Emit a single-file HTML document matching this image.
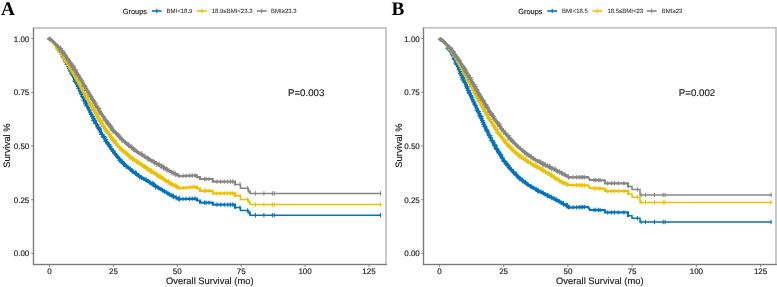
<!DOCTYPE html>
<html><head><meta charset="utf-8"><style>
html,body{margin:0;padding:0;background:#fff;width:777px;height:287px;overflow:hidden}
svg{display:block;font-family:"Liberation Sans",sans-serif;filter:blur(0.5px);text-rendering:geometricPrecision}
</style></head><body>
<svg width="777" height="287" viewBox="0 0 777 287"><style>.t{fill:#1a1a1a;stroke:#1a1a1a;stroke-width:0.15px}.t2{fill:#2a2a2a;stroke:#2a2a2a;stroke-width:0.05px}</style><rect width="777" height="287" fill="#fff"/><rect x="33.5" y="28.0" width="352.5" height="236.5" fill="none" stroke="#c4c4c4" stroke-width="1.8"/><line x1="33.5" y1="28.0" x2="33.5" y2="265.0" stroke="#7a7a7a" stroke-width="1"/><line x1="33.0" y1="264.5" x2="386.9" y2="264.5" stroke="#7a7a7a" stroke-width="1"/><line x1="31.2" y1="253.4" x2="33.5" y2="253.4" stroke="#7a7a7a" stroke-width="0.9"/><text x="29.3" y="256.3" font-size="8.0" text-anchor="end" class="t">0.00</text><line x1="31.2" y1="199.7" x2="33.5" y2="199.7" stroke="#7a7a7a" stroke-width="0.9"/><text x="29.3" y="202.6" font-size="8.0" text-anchor="end" class="t">0.25</text><line x1="31.2" y1="146.0" x2="33.5" y2="146.0" stroke="#7a7a7a" stroke-width="0.9"/><text x="29.3" y="148.9" font-size="8.0" text-anchor="end" class="t">0.50</text><line x1="31.2" y1="92.3" x2="33.5" y2="92.3" stroke="#7a7a7a" stroke-width="0.9"/><text x="29.3" y="95.2" font-size="8.0" text-anchor="end" class="t">0.75</text><line x1="31.2" y1="38.6" x2="33.5" y2="38.6" stroke="#7a7a7a" stroke-width="0.9"/><text x="29.3" y="41.5" font-size="8.0" text-anchor="end" class="t">1.00</text><line x1="49.5" y1="264.5" x2="49.5" y2="266.9" stroke="#7a7a7a" stroke-width="0.9"/><text x="49.5" y="274.0" font-size="8.0" text-anchor="middle" class="t">0</text><line x1="113.4" y1="264.5" x2="113.4" y2="266.9" stroke="#7a7a7a" stroke-width="0.9"/><text x="113.4" y="274.0" font-size="8.0" text-anchor="middle" class="t">25</text><line x1="177.3" y1="264.5" x2="177.3" y2="266.9" stroke="#7a7a7a" stroke-width="0.9"/><text x="177.3" y="274.0" font-size="8.0" text-anchor="middle" class="t">50</text><line x1="241.2" y1="264.5" x2="241.2" y2="266.9" stroke="#7a7a7a" stroke-width="0.9"/><text x="241.2" y="274.0" font-size="8.0" text-anchor="middle" class="t">75</text><line x1="305.1" y1="264.5" x2="305.1" y2="266.9" stroke="#7a7a7a" stroke-width="0.9"/><text x="305.1" y="274.0" font-size="8.0" text-anchor="middle" class="t">100</text><line x1="369.0" y1="264.5" x2="369.0" y2="266.9" stroke="#7a7a7a" stroke-width="0.9"/><text x="369.0" y="274.0" font-size="8.0" text-anchor="middle" class="t">125</text><text x="209.8" y="284.3" font-size="9.4" text-anchor="middle" class="t">Overall Survival (mo)</text><text transform="translate(9.8,145.5) rotate(-90)" x="0" y="0" font-size="9.4" text-anchor="middle" class="t">Survival %</text><text x="1.0" y="14.6" font-family="Liberation Serif" font-weight="bold" font-size="19.3" fill="#000">A</text><text x="288.0" y="95.9" font-size="9.7" class="t">P=0.003</text><text x="122.8" y="13.8" font-size="7.4" class="t">Groups</text><line x1="151.9" y1="11" x2="161.7" y2="11" stroke="#0073C2" stroke-width="1.6"/><line x1="156.8" y1="8.8" x2="156.8" y2="13.2" stroke="#0073C2" stroke-width="1.1"/><text x="166.6" y="13.3" font-size="6.0" class="t2">BMI<18.9</text><line x1="196.9" y1="11" x2="206.7" y2="11" stroke="#EFC000" stroke-width="1.6"/><line x1="201.8" y1="8.8" x2="201.8" y2="13.2" stroke="#EFC000" stroke-width="1.1"/><text x="211.7" y="13.3" font-size="6.0" class="t2">18.9≤BMI<23.3</text><line x1="256.8" y1="11" x2="266.6" y2="11" stroke="#868686" stroke-width="1.6"/><line x1="261.7" y1="8.8" x2="261.7" y2="13.2" stroke="#868686" stroke-width="1.1"/><text x="271.0" y="13.3" font-size="6.0" class="t2">BMI≥23.3</text><polyline points="49.6,38.9 50.6,39.6 51.6,40.5 52.6,41.4 53.6,42.4 54.6,43.6 55.6,44.8 56.6,46.1 57.6,47.4 58.6,48.9 59.6,50.4 60.6,52.0 61.6,53.6 62.6,55.3 63.6,57.1 64.6,58.9 65.6,60.8 66.6,62.7 67.6,64.6 68.6,66.6 69.6,68.6 70.6,70.7 71.6,72.8 72.6,74.9 73.6,77.0 74.6,79.1 75.6,81.3 76.6,83.4 77.6,85.6 78.6,87.7 79.6,89.9 80.6,92.0 81.6,94.2 82.6,96.3 83.6,98.4 84.6,100.5 85.6,102.6 86.6,104.7 87.6,106.7 88.6,108.8 89.6,110.8 90.6,112.8 91.6,114.8 92.6,116.8 93.6,118.8 94.6,120.7 95.6,122.6 96.6,124.5 97.6,126.3 98.6,128.2 99.6,130.0 100.6,131.8 101.6,133.5 102.6,135.2 103.6,136.9 104.6,138.6 105.6,140.2 106.6,141.8 107.6,143.4 108.6,144.9 109.6,146.4 110.6,147.8 111.6,149.3 112.6,150.6 113.6,152.0 114.6,153.3 115.6,154.5 116.6,155.8 117.6,156.9 118.6,158.1 119.6,159.2 120.6,160.3 121.6,161.4 122.6,162.4 123.6,163.4 124.6,164.4 125.6,165.3 126.6,166.2 127.6,167.1 128.6,168.0 129.6,168.8 130.6,169.6 131.6,170.4 132.6,171.2 133.6,172.0 134.6,172.7 135.6,173.5 136.6,174.2 137.6,174.9 138.6,175.5 139.6,176.2 140.6,176.9 141.6,177.5 142.6,178.2 143.6,178.8 144.6,179.4 145.6,180.0 146.6,180.6 147.6,181.2 148.6,181.8 149.6,182.4 150.6,183.0 151.6,183.6 152.6,184.2 153.6,184.8 154.6,185.4 155.6,186.0 156.6,186.6 157.6,187.3 158.6,187.9 159.6,188.5 160.6,189.1 161.6,189.7 162.6,190.3 163.6,190.9 164.6,191.5" fill="none" stroke="#0073C2" stroke-width="3.0" stroke-linejoin="round" stroke-linecap="round"/><polyline points="164.6,191.5 165.6,192.1 166.6,192.7 167.6,193.3 168.6,193.8 169.6,194.4 170.6,194.9 171.6,195.4 172.6,196.0 173.6,196.5 174.6,196.9 175.6,197.4 176.6,197.8 177.6,198.3 178.6,198.7 179.6,199.1" fill="none" stroke="#0073C2" stroke-width="2.6" stroke-linejoin="round" stroke-linecap="round"/><polyline points="179.6,199.1 196.0,198.6 197.0,198.6 197.0,200.5 200.0,200.5 200.0,202.7 212.7,202.7 212.7,204.7 235.0,204.7 235.0,207.6" fill="none" stroke="#0073C2" stroke-width="2.2" stroke-linejoin="miter" stroke-linecap="square"/><polyline points="235.0,207.6 240.5,207.6 240.5,210.5 248.4,210.5 248.4,212.9 250.0,212.9 250.0,215.2 380.5,215.2" fill="none" stroke="#0073C2" stroke-width="1.5" stroke-linejoin="miter" stroke-linecap="square"/><path d="M55.1 48.0H60.7M57.9 45.2V50.8M56.3 49.3H60.5M58.4 47.2V51.4M57.9 51.0H62.7M60.3 48.6V53.4M58.1 52.4H63.2M60.6 49.8V54.9M59.8 54.5H65.1M62.4 51.8V57.2M60.4 56.3H65.7M63.1 53.6V58.9M61.0 57.7H66.0M63.5 55.2V60.3M62.8 60.1H67.9M65.4 57.5V62.6M62.8 61.2H68.2M65.5 58.5V63.9M63.7 62.3H69.4M66.6 59.5V65.2M64.6 64.5H69.7M67.1 61.9V67.1M66.5 66.6H70.8M68.6 64.5V68.8M67.0 68.6H71.8M69.4 66.2V71.0M67.5 70.1H72.3M69.9 67.7V72.5M68.3 71.4H74.3M71.3 68.4V74.3M69.3 73.6H74.7M72.0 70.8V76.3M70.0 74.5H74.9M72.5 72.0V76.9M70.9 75.7H76.3M73.6 73.0V78.4M72.0 77.6H76.4M74.2 75.4V79.8M72.7 80.2H78.0M75.4 77.6V82.8M72.6 81.5H77.8M75.2 78.9V84.1M73.9 82.6H79.1M76.5 80.0V85.2M74.7 83.8H78.9M76.8 81.7V85.9M75.6 86.5H80.4M78.0 84.1V88.9M76.4 88.5H80.7M78.5 86.3V90.6M77.6 90.0H82.5M80.1 87.5V92.5M78.2 91.6H83.5M80.8 88.9V94.2M78.5 93.8H84.1M81.3 91.0V96.6M80.1 96.6H84.3M82.2 94.5V98.7M81.4 98.0H86.4M83.9 95.5V100.5M81.4 100.8H87.0M84.2 97.9V103.6M83.5 102.2H88.0M85.8 99.9V104.5M83.0 103.9H88.9M86.0 101.0V106.9M84.1 105.7H90.0M87.1 102.8V108.7M86.0 107.7H91.1M88.5 105.1V110.3M87.0 110.1H91.9M89.5 107.6V112.6M88.1 112.8H92.4M90.3 110.6V115.0M88.9 114.5H93.6M91.2 112.2V116.8M89.9 116.5H95.2M92.5 113.8V119.2M91.1 118.6H95.7M93.4 116.4V120.9M91.0 120.3H96.8M93.9 117.4V123.2M92.3 121.1H97.6M94.9 118.5V123.7M93.2 123.6H98.2M95.7 121.0V126.1M94.9 124.7H99.2M97.0 122.6V126.9M95.3 127.0H100.8M98.1 124.2V129.8M96.0 128.2H101.8M98.9 125.3V131.1M97.7 129.2H102.0M99.9 127.1V131.4M97.5 130.5H102.1M99.8 128.2V132.8M98.4 132.7H102.9M100.6 130.4V134.9M98.8 134.4H104.7M101.7 131.4V137.3M100.9 136.5H106.2M103.6 133.9V139.2M101.3 137.2H106.9M104.1 134.4V140.0M103.4 139.5H108.2M105.8 137.1V141.9M103.2 141.6H108.8M106.0 138.7V144.4M105.4 143.2H109.9M107.6 140.9V145.4M106.4 144.6H111.6M109.0 142.0V147.2M107.3 146.3H112.6M110.0 143.6V149.0M109.0 148.9H113.8M111.4 146.5V151.3M110.6 150.9H115.1M112.8 148.6V153.1M110.8 151.2H116.0M113.4 148.6V153.8M112.2 153.4H117.3M114.8 150.9V155.9M113.7 155.2H118.1M115.9 153.0V157.5M115.6 157.0H120.5M118.1 154.5V159.4M116.4 158.4H121.2M118.8 156.0V160.8M117.4 160.3H122.6M120.0 157.7V163.0M118.9 161.6H123.3M121.1 159.4V163.8M119.2 161.9H125.1M122.2 159.0V164.8M120.8 163.8H126.1M123.5 161.1V166.5M122.3 164.9H127.1M124.7 162.5V167.3M123.3 166.3H128.9M126.1 163.5V169.1M126.4 167.6H130.7M128.5 165.5V169.8M127.8 168.8H132.5M130.2 166.4V171.1M129.6 170.8H134.0M131.8 168.6V173.0M130.2 171.4H135.7M133.0 168.7V174.2M132.6 173.3H138.2M135.4 170.5V176.1M133.8 173.7H139.3M136.6 170.9V176.5M136.2 175.4H141.1M138.6 172.9V177.8M136.9 176.8H142.1M139.5 174.2V179.4M139.1 177.7H144.0M141.5 175.2V180.1M141.8 178.7H146.3M144.0 176.5V180.9M143.4 179.7H148.9M146.2 177.0V182.5M146.1 181.0H150.4M148.3 178.8V183.2M147.2 182.5H152.5M149.8 179.9V185.1M149.2 183.5H155.0M152.1 180.6V186.4M150.9 184.1H156.0M153.5 181.6V186.7M151.3 185.0H156.8M154.1 182.3V187.8M152.6 186.7H158.4M155.5 183.8V189.6M155.6 187.5H160.2M157.9 185.2V189.8M156.7 188.3H161.1M158.9 186.1V190.6M158.7 189.1H163.3M161.0 186.8V191.4M160.0 190.3H164.7M162.4 188.0V192.7M162.0 191.4H166.9M164.5 188.9V193.8M164.6 192.3H169.0M166.8 190.0V194.5M165.8 193.7H170.4M168.1 191.4V196.0M167.2 194.6H172.3M169.8 192.1V197.2M169.3 195.7H174.6M171.9 193.0V198.3M170.4 196.4H176.2M173.3 193.5V199.3M173.4 197.7H178.8M176.1 195.0V200.5M175.9 198.7H180.7M178.3 196.3V201.1M176.8 198.7H182.7M179.7 195.8V201.6M183.0 196.8V201.2M186.0 196.7V201.1M189.4 196.6V201.0M192.2 196.5V200.9M195.0 196.4V200.8M204.6 200.5V204.9M206.1 200.5V204.9M209.0 200.5V204.9M217.0 202.5V206.9M220.7 202.5V206.9M224.3 202.5V206.9M227.8 202.5V206.9M230.5 202.5V206.9M232.7 202.5V206.9M240.0 205.4V209.8M247.6 208.3V212.7M250.0 210.7V215.1M255.5 213.0V217.4M263.9 213.0V217.4M272.4 213.0V217.4M274.3 213.0V217.4M380.5 213.0V217.4" stroke="#0073C2" stroke-width="1.0" fill="none"/><polyline points="49.6,38.9 50.6,39.9 51.6,40.9 52.6,42.0 53.6,43.2 54.6,44.4 55.6,45.6 56.6,46.9 57.6,48.2 58.6,49.6 59.6,50.9 60.6,52.4 61.6,53.8 62.6,55.3 63.6,56.8 64.6,58.4 65.6,60.0 66.6,61.6 67.6,63.2 68.6,64.8 69.6,66.5 70.6,68.2 71.6,69.9 72.6,71.7 73.6,73.4 74.6,75.2 75.6,77.0 76.6,78.7 77.6,80.5 78.6,82.4 79.6,84.2 80.6,86.0 81.6,87.8 82.6,89.7 83.6,91.5 84.6,93.3 85.6,95.2 86.6,97.0 87.6,98.8 88.6,100.7 89.6,102.5 90.6,104.3 91.6,106.1 92.6,107.9 93.6,109.7 94.6,111.4 95.6,113.2 96.6,114.9 97.6,116.6 98.6,118.3 99.6,120.0 100.6,121.7 101.6,123.3 102.6,124.9 103.6,126.5 104.6,128.1 105.6,129.6 106.6,131.1 107.6,132.6 108.6,134.0 109.6,135.4 110.6,136.7 111.6,138.1 112.6,139.3 113.6,140.6 114.6,141.8 115.6,143.0 116.6,144.1 117.6,145.2 118.6,146.3 119.6,147.3 120.6,148.3 121.6,149.3 122.6,150.3 123.6,151.2 124.6,152.1 125.6,153.0 126.6,153.8 127.6,154.6 128.6,155.5 129.6,156.3 130.6,157.0 131.6,157.8 132.6,158.5 133.6,159.3 134.6,160.0 135.6,160.7 136.6,161.4 137.6,162.1 138.6,162.7 139.6,163.4 140.6,164.1 141.6,164.7 142.6,165.4 143.6,166.1 144.6,166.7 145.6,167.4 146.6,168.0 147.6,168.7 148.6,169.4 149.6,170.0 150.6,170.7 151.6,171.4 152.6,172.0 153.6,172.7 154.6,173.3 155.6,174.0 156.6,174.6 157.6,175.3 158.6,175.9 159.6,176.6 160.6,177.2 161.6,177.9 162.6,178.5 163.6,179.1 164.6,179.8" fill="none" stroke="#EFC000" stroke-width="3.0" stroke-linejoin="round" stroke-linecap="round"/><polyline points="164.6,179.8 165.6,180.4 166.6,181.0 167.6,181.6 168.6,182.2 169.6,182.8 170.6,183.4 171.6,183.9 172.6,184.5 173.6,185.1 174.6,185.6 175.6,186.2 176.6,186.7 177.6,187.2 178.6,187.7 179.6,188.2" fill="none" stroke="#EFC000" stroke-width="2.6" stroke-linejoin="round" stroke-linecap="round"/><polyline points="179.6,188.2 196.0,186.8 197.0,186.8 197.0,188.5 200.0,188.5 200.0,190.8 212.7,190.8 212.7,193.3 235.0,193.3 235.0,195.8" fill="none" stroke="#EFC000" stroke-width="2.2" stroke-linejoin="miter" stroke-linecap="square"/><polyline points="235.0,195.8 240.5,195.8 240.5,199.4 248.4,199.4 248.4,202.5 250.0,202.5 250.0,204.6 380.5,204.6" fill="none" stroke="#EFC000" stroke-width="1.5" stroke-linejoin="miter" stroke-linecap="square"/><path d="M55.0 48.4H59.5M57.2 46.2V50.6M55.6 50.1H60.8M58.2 47.4V52.7M57.1 51.9H62.6M59.9 49.2V54.7M59.3 53.4H64.3M61.8 50.9V55.9M60.3 55.2H65.7M63.0 52.5V57.9M61.4 56.9H65.7M63.5 54.8V59.1M61.8 59.1H66.8M64.3 56.6V61.6M63.2 60.2H68.7M66.0 57.5V63.0M63.6 61.4H69.5M66.5 58.5V64.3M64.5 62.5H69.7M67.1 59.9V65.1M65.6 63.3H70.2M67.9 61.0V65.5M66.1 65.7H71.6M68.8 62.9V68.5M67.9 68.1H72.9M70.4 65.6V70.6M69.1 69.8H74.4M71.8 67.2V72.5M69.7 71.2H75.2M72.4 68.4V73.9M70.7 73.1H75.8M73.2 70.5V75.6M71.6 74.2H77.3M74.5 71.4V77.1M73.2 76.7H77.4M75.3 74.6V78.8M74.0 78.2H79.2M76.6 75.6V80.8M75.0 80.1H80.0M77.5 77.7V82.6M75.4 81.2H80.3M77.8 78.7V83.6M76.8 83.8H81.7M79.3 81.3V86.2M78.4 86.1H83.3M80.9 83.6V88.5M78.9 87.1H84.3M81.6 84.4V89.8M79.7 88.1H84.8M82.2 85.5V90.6M79.6 89.9H85.3M82.5 87.1V92.8M81.3 91.3H86.2M83.8 88.8V93.7M81.5 93.0H86.9M84.2 90.2V95.7M82.4 95.5H88.0M85.2 92.7V98.3M83.8 97.1H88.5M86.1 94.8V99.5M85.2 99.0H89.9M87.5 96.7V101.4M86.3 100.8H90.9M88.6 98.5V103.0M87.4 102.8H92.0M89.7 100.5V105.2M87.7 104.4H93.2M90.5 101.7V107.2M88.1 105.3H93.7M90.9 102.5V108.1M90.0 107.4H95.3M92.7 104.7V110.0M91.3 109.2H96.0M93.7 106.9V111.5M91.8 110.6H96.8M94.3 108.1V113.1M92.8 112.6H97.3M95.1 110.3V114.8M94.5 113.9H99.0M96.7 111.6V116.2M94.5 115.2H99.5M97.0 112.6V117.7M95.3 117.2H99.8M97.5 114.9V119.5M95.9 118.7H101.6M98.8 115.9V121.5M97.3 120.4H102.7M100.0 117.7V123.1M97.6 121.2H103.2M100.4 118.4V124.0M99.3 122.8H103.7M101.5 120.6V125.0M98.6 124.2H104.4M101.5 121.3V127.2M100.8 126.4H106.3M103.6 123.7V129.1M102.6 128.1H107.4M105.0 125.7V130.5M102.5 129.9H107.9M105.2 127.2V132.7M104.7 131.5H109.5M107.1 129.1V133.9M104.7 132.1H109.5M107.1 129.7V134.4M106.1 133.7H111.9M109.0 130.8V136.6M108.2 135.7H112.4M110.3 133.6V137.8M108.3 137.4H113.9M111.1 134.6V140.2M109.6 139.4H115.5M112.5 136.4V142.3M111.2 140.5H116.9M114.0 137.7V143.3M112.1 141.5H117.3M114.7 138.9V144.1M113.2 143.6H118.7M116.0 140.8V146.4M115.1 145.6H120.2M117.6 143.1V148.1M116.7 147.6H122.1M119.4 144.9V150.3M118.5 149.2H123.9M121.2 146.5V152.0M119.4 150.7H124.9M122.1 148.0V153.5M121.4 151.1H126.5M124.0 148.6V153.6M123.2 152.8H128.0M125.6 150.4V155.2M124.1 153.6H128.7M126.4 151.4V155.9M124.9 154.4H130.4M127.6 151.7V157.2M127.0 156.5H132.1M129.5 153.9V159.0M127.9 157.6H133.0M130.4 155.0V160.1M129.5 158.8H135.2M132.4 155.9V161.7M132.0 160.2H136.8M134.4 157.8V162.6M133.6 161.3H139.3M136.5 158.5V164.2M136.1 163.1H140.8M138.4 160.8V165.5M137.3 163.0H141.6M139.4 160.9V165.2M139.1 164.6H144.4M141.8 161.9V167.3M140.2 165.7H145.4M142.8 163.1V168.4M142.2 166.6H147.5M144.9 163.9V169.2M143.3 168.1H149.0M146.1 165.2V170.9M145.2 169.0H150.2M147.7 166.5V171.4M146.2 169.7H151.6M148.9 167.0V172.4M147.4 171.1H153.3M150.4 168.2V174.0M148.8 171.2H154.5M151.6 168.4V174.1M151.4 172.8H155.9M153.6 170.6V175.1M153.9 173.7H158.4M156.2 171.4V175.9M154.9 175.4H159.9M157.4 172.9V177.9M155.7 176.4H161.2M158.4 173.6V179.2M157.3 176.5H162.9M160.1 173.7V179.3M158.6 177.0H163.7M161.2 174.5V179.5M160.5 178.2H164.9M162.7 176.0V180.4M161.4 179.2H165.9M163.6 176.9V181.4M163.3 180.5H168.0M165.6 178.2V182.9M164.3 181.4H169.0M166.6 179.0V183.7M165.8 182.0H171.6M168.7 179.1V184.9M168.2 183.7H172.8M170.5 181.3V186.0M168.9 184.2H174.8M171.9 181.3V187.2M171.2 184.8H175.6M173.4 182.6V187.0M172.9 185.8H178.7M175.8 182.9V188.7M173.5 186.6H179.3M176.4 183.7V189.6M176.2 187.5H180.5M178.3 185.3V189.7M183.0 185.7V190.1M186.0 185.5V189.9M189.4 185.2V189.6M192.2 184.9V189.3M195.0 184.7V189.1M204.6 188.6V193.0M206.1 188.6V193.0M209.0 188.6V193.0M217.0 191.1V195.5M220.7 191.1V195.5M224.3 191.1V195.5M227.8 191.1V195.5M230.5 191.1V195.5M232.7 191.1V195.5M240.0 193.6V198.0M247.6 197.2V201.6M250.0 200.3V204.7M255.5 202.4V206.8M263.9 202.4V206.8M272.4 202.4V206.8M274.3 202.4V206.8M380.5 202.4V206.8" stroke="#EFC000" stroke-width="1.0" fill="none"/><polyline points="49.6,38.9 50.6,39.6 51.6,40.4 52.6,41.2 53.6,42.1 54.6,43.0 55.6,44.0 56.6,45.0 57.6,46.1 58.6,47.2 59.6,48.3 60.6,49.5 61.6,50.7 62.6,52.0 63.6,53.3 64.6,54.6 65.6,55.9 66.6,57.3 67.6,58.8 68.6,60.2 69.6,61.7 70.6,63.2 71.6,64.7 72.6,66.2 73.6,67.8 74.6,69.4 75.6,71.0 76.6,72.6 77.6,74.3 78.6,75.9 79.6,77.6 80.6,79.2 81.6,80.9 82.6,82.6 83.6,84.3 84.6,86.0 85.6,87.7 86.6,89.4 87.6,91.1 88.6,92.8 89.6,94.5 90.6,96.2 91.6,97.9 92.6,99.6 93.6,101.2 94.6,102.9 95.6,104.5 96.6,106.2 97.6,107.8 98.6,109.4 99.6,111.0 100.6,112.6 101.6,114.1 102.6,115.6 103.6,117.2 104.6,118.6 105.6,120.1 106.6,121.5 107.6,122.9 108.6,124.3 109.6,125.6 110.6,126.9 111.6,128.2 112.6,129.4 113.6,130.6 114.6,131.8 115.6,132.9 116.6,134.0 117.6,135.1 118.6,136.2 119.6,137.2 120.6,138.2 121.6,139.2 122.6,140.1 123.6,141.0 124.6,141.9 125.6,142.8 126.6,143.7 127.6,144.5 128.6,145.3 129.6,146.1 130.6,146.9 131.6,147.7 132.6,148.4 133.6,149.2 134.6,149.9 135.6,150.6 136.6,151.3 137.6,152.0 138.6,152.6 139.6,153.3 140.6,153.9 141.6,154.6 142.6,155.2 143.6,155.8 144.6,156.4 145.6,157.0 146.6,157.6 147.6,158.2 148.6,158.8 149.6,159.4 150.6,160.0 151.6,160.6 152.6,161.2 153.6,161.8 154.6,162.4 155.6,163.0 156.6,163.5 157.6,164.1 158.6,164.7 159.6,165.3 160.6,165.8 161.6,166.4 162.6,167.0 163.6,167.5 164.6,168.1" fill="none" stroke="#868686" stroke-width="3.0" stroke-linejoin="round" stroke-linecap="round"/><polyline points="164.6,168.1 165.6,168.6 166.6,169.2 167.6,169.7 168.6,170.3 169.6,170.8 170.6,171.4 171.6,171.9 172.6,172.4 173.6,173.0 174.6,173.5 175.6,174.0 176.6,174.5 177.6,175.0 178.6,175.5 179.6,176.0" fill="none" stroke="#868686" stroke-width="2.6" stroke-linejoin="round" stroke-linecap="round"/><polyline points="179.6,176.0 196.0,175.4 197.0,175.4 197.0,177.1 200.0,177.1 200.0,179.0 212.7,179.0 212.7,181.6 235.0,181.6 235.0,184.4" fill="none" stroke="#868686" stroke-width="2.2" stroke-linejoin="miter" stroke-linecap="square"/><polyline points="235.0,184.4 240.5,184.4 240.5,188.3 248.4,188.3 248.4,191.8 250.0,191.8 250.0,193.4 380.5,193.4" fill="none" stroke="#868686" stroke-width="1.5" stroke-linejoin="miter" stroke-linecap="square"/><path d="M55.6 47.0H61.2M58.4 44.3V49.8M57.6 48.4H63.3M60.4 45.5V51.2M58.4 50.5H64.4M61.4 47.5V53.5M59.2 51.8H65.1M62.1 48.9V54.8M61.3 52.7H66.1M63.7 50.3V55.2M62.2 54.7H67.1M64.7 52.2V57.1M62.7 55.8H68.2M65.5 53.0V58.6M64.9 58.3H69.5M67.2 56.0V60.6M64.9 59.1H70.5M67.7 56.3V61.9M66.5 60.9H71.1M68.8 58.6V63.1M67.6 62.1H72.3M69.9 59.8V64.5M67.9 63.6H73.1M70.5 61.0V66.3M69.1 65.2H74.3M71.7 62.6V67.8M69.9 65.9H75.8M72.8 62.9V68.8M70.2 67.3H76.2M73.2 64.3V70.3M71.5 69.5H77.4M74.4 66.5V72.4M72.3 70.1H77.8M75.0 67.4V72.9M73.6 71.0H77.9M75.8 68.9V73.2M74.2 73.0H79.0M76.6 70.6V75.4M74.7 74.8H79.7M77.2 72.4V77.3M76.4 75.2H81.0M78.7 72.9V77.6M78.1 78.2H82.5M80.3 76.0V80.4M78.2 79.3H82.4M80.3 77.1V81.4M79.4 80.3H83.9M81.6 78.1V82.6M80.5 82.8H84.9M82.7 80.7V85.0M81.6 85.2H86.9M84.3 82.5V87.8M81.6 86.4H87.5M84.6 83.4V89.4M84.1 88.5H88.3M86.2 86.4V90.6M84.2 90.4H89.7M87.0 87.6V93.1M86.7 92.8H91.2M88.9 90.6V95.1M87.3 94.5H92.0M89.6 92.1V96.8M88.0 96.0H93.1M90.5 93.5V98.6M88.4 96.9H93.9M91.2 94.2V99.7M90.2 99.4H95.0M92.6 97.0V101.8M91.3 100.4H95.7M93.5 98.2V102.6M92.1 101.6H96.4M94.2 99.4V103.7M91.8 103.1H97.8M94.8 100.2V106.1M93.4 105.2H98.3M95.8 102.7V107.6M95.0 107.9H100.3M97.7 105.3V110.5M95.9 108.5H101.4M98.7 105.8V111.2M96.5 110.7H101.7M99.1 108.2V113.3M97.6 111.5H101.9M99.8 109.4V113.7M97.8 112.8H102.7M100.2 110.3V115.2M99.3 114.6H103.8M101.6 112.3V116.8M101.2 116.6H106.2M103.7 114.1V119.1M102.1 119.1H106.8M104.5 116.7V121.4M102.9 120.8H108.8M105.9 117.9V123.7M104.6 121.8H109.5M107.1 119.3V124.2M104.7 122.9H110.0M107.4 120.3V125.6M105.8 124.7H111.7M108.8 121.7V127.7M107.5 126.0H113.5M110.5 123.1V129.0M108.8 127.9H114.1M111.5 125.3V130.6M109.7 129.2H114.4M112.1 126.8V131.5M110.0 130.5H115.8M112.9 127.6V133.5M111.5 131.1H115.9M113.7 128.9V133.3M112.8 132.4H117.8M115.3 129.9V134.9M113.9 133.4H118.8M116.4 130.9V135.8M115.2 134.8H120.7M117.9 132.0V137.5M116.5 136.1H121.6M119.1 133.6V138.7M118.5 137.7H122.9M120.7 135.5V139.9M119.1 139.8H125.0M122.0 136.9V142.8M120.9 140.6H125.3M123.1 138.4V142.8M122.8 142.0H127.2M125.0 139.8V144.2M124.8 143.9H129.3M127.1 141.6V146.1M125.6 145.1H131.3M128.5 142.2V147.9M127.2 145.9H132.4M129.8 143.3V148.5M128.9 147.5H134.9M131.9 144.5V150.5M130.7 149.1H136.3M133.5 146.3V151.9M132.4 150.2H137.5M134.9 147.7V152.8M134.5 151.5H139.2M136.9 149.1V153.8M136.5 153.2H141.4M139.0 150.7V155.6M138.9 154.0H144.8M141.9 151.0V157.0M140.7 155.6H145.0M142.8 153.4V157.7M142.3 156.5H147.1M144.7 154.2V158.9M144.8 158.2H149.6M147.2 155.8V160.6M145.2 158.7H151.1M148.2 155.8V161.7M147.9 159.7H152.6M150.2 157.4V162.1M149.6 161.2H153.9M151.8 159.1V163.4M151.2 161.5H155.7M153.4 159.3V163.7M151.9 162.6H157.5M154.7 159.8V165.4M153.7 163.9H159.7M156.7 161.0V166.9M156.2 164.4H162.0M159.1 161.5V167.3M158.2 166.2H163.9M161.1 163.3V169.0M159.7 166.2H164.3M162.0 163.9V168.5M160.4 167.5H166.3M163.4 164.5V170.4M161.2 167.8H166.9M164.0 165.0V170.7M163.5 169.2H168.9M166.2 166.5V171.9M164.3 169.7H170.1M167.2 166.8V172.6M166.6 170.7H171.5M169.1 168.3V173.2M169.1 172.2H173.9M171.5 169.8V174.7M170.4 173.0H175.9M173.2 170.3V175.8M172.1 173.5H178.1M175.1 170.6V176.5M173.5 174.6H178.2M175.9 172.3V177.0M176.5 175.5H180.8M178.6 173.3V177.7M183.0 173.7V178.1M186.0 173.6V178.0M189.4 173.4V177.8M192.2 173.3V177.7M195.0 173.2V177.6M204.6 176.8V181.2M206.1 176.8V181.2M209.0 176.8V181.2M217.0 179.4V183.8M220.7 179.4V183.8M224.3 179.4V183.8M227.8 179.4V183.8M230.5 179.4V183.8M232.7 179.4V183.8M240.0 182.2V186.6M247.6 186.1V190.5M250.0 189.6V194.0M255.5 191.2V195.6M263.9 191.2V195.6M272.4 191.2V195.6M274.3 191.2V195.6M380.5 191.2V195.6" stroke="#868686" stroke-width="1.0" fill="none"/><rect x="423.5" y="27.8" width="352.5" height="236.7" fill="none" stroke="#c4c4c4" stroke-width="1.8"/><line x1="423.5" y1="27.8" x2="423.5" y2="265.0" stroke="#7a7a7a" stroke-width="1"/><line x1="423.0" y1="264.5" x2="776.9" y2="264.5" stroke="#7a7a7a" stroke-width="1"/><line x1="421.2" y1="253.4" x2="423.5" y2="253.4" stroke="#7a7a7a" stroke-width="0.9"/><text x="419.8" y="256.3" font-size="8.0" text-anchor="end" class="t">0.00</text><line x1="421.2" y1="199.7" x2="423.5" y2="199.7" stroke="#7a7a7a" stroke-width="0.9"/><text x="419.8" y="202.6" font-size="8.0" text-anchor="end" class="t">0.25</text><line x1="421.2" y1="146.0" x2="423.5" y2="146.0" stroke="#7a7a7a" stroke-width="0.9"/><text x="419.8" y="148.9" font-size="8.0" text-anchor="end" class="t">0.50</text><line x1="421.2" y1="92.3" x2="423.5" y2="92.3" stroke="#7a7a7a" stroke-width="0.9"/><text x="419.8" y="95.2" font-size="8.0" text-anchor="end" class="t">0.75</text><line x1="421.2" y1="38.6" x2="423.5" y2="38.6" stroke="#7a7a7a" stroke-width="0.9"/><text x="419.8" y="41.5" font-size="8.0" text-anchor="end" class="t">1.00</text><line x1="439.4" y1="264.5" x2="439.4" y2="266.9" stroke="#7a7a7a" stroke-width="0.9"/><text x="439.4" y="274.0" font-size="8.0" text-anchor="middle" class="t">0</text><line x1="503.6" y1="264.5" x2="503.6" y2="266.9" stroke="#7a7a7a" stroke-width="0.9"/><text x="503.6" y="274.0" font-size="8.0" text-anchor="middle" class="t">25</text><line x1="567.9" y1="264.5" x2="567.9" y2="266.9" stroke="#7a7a7a" stroke-width="0.9"/><text x="567.9" y="274.0" font-size="8.0" text-anchor="middle" class="t">50</text><line x1="632.1" y1="264.5" x2="632.1" y2="266.9" stroke="#7a7a7a" stroke-width="0.9"/><text x="632.1" y="274.0" font-size="8.0" text-anchor="middle" class="t">75</text><line x1="696.4" y1="264.5" x2="696.4" y2="266.9" stroke="#7a7a7a" stroke-width="0.9"/><text x="696.4" y="274.0" font-size="8.0" text-anchor="middle" class="t">100</text><line x1="760.6" y1="264.5" x2="760.6" y2="266.9" stroke="#7a7a7a" stroke-width="0.9"/><text x="760.6" y="274.0" font-size="8.0" text-anchor="middle" class="t">125</text><text x="599.8" y="284.3" font-size="9.4" text-anchor="middle" class="t">Overall Survival (mo)</text><text transform="translate(401.7,145.5) rotate(-90)" x="0" y="0" font-size="9.4" text-anchor="middle" class="t">Survival %</text><text x="391.4" y="14.6" font-family="Liberation Serif" font-weight="bold" font-size="19.3" fill="#000">B</text><text x="678.8" y="95.9" font-size="9.7" class="t">P=0.002</text><text x="518.3" y="13.8" font-size="7.4" class="t">Groups</text><line x1="547.3" y1="11" x2="557.1" y2="11" stroke="#0073C2" stroke-width="1.6"/><line x1="552.2" y1="8.8" x2="552.2" y2="13.2" stroke="#0073C2" stroke-width="1.1"/><text x="562.0" y="13.3" font-size="6.0" class="t2">BMI<18.5</text><line x1="592.4" y1="11" x2="602.2" y2="11" stroke="#EFC000" stroke-width="1.6"/><line x1="597.3" y1="8.8" x2="597.3" y2="13.2" stroke="#EFC000" stroke-width="1.1"/><text x="607.4" y="13.3" font-size="6.0" class="t2">18.5≤BMI<23</text><line x1="646.8" y1="11" x2="656.6" y2="11" stroke="#868686" stroke-width="1.6"/><line x1="651.7" y1="8.8" x2="651.7" y2="13.2" stroke="#868686" stroke-width="1.1"/><text x="661.8" y="13.3" font-size="6.0" class="t2">BMI≥23</text><polyline points="440.4,39.3 441.4,39.8 442.4,40.4 443.4,41.3 444.4,42.2 445.4,43.4 446.4,44.6 447.4,46.0 448.4,47.5 449.4,49.2 450.4,50.9 451.4,52.7 452.4,54.6 453.4,56.6 454.4,58.7 455.4,60.8 456.4,63.0 457.4,65.2 458.4,67.5 459.4,69.8 460.4,72.2 461.4,74.5 462.4,76.9 463.4,79.2 464.4,81.6 465.4,83.9 466.4,86.2 467.4,88.5 468.4,90.7 469.4,92.9 470.4,95.1 471.4,97.2 472.4,99.3 473.4,101.4 474.4,103.5 475.4,105.6 476.4,107.7 477.4,109.9 478.4,112.0 479.4,114.2 480.4,116.4 481.4,118.5 482.4,120.7 483.4,122.9 484.4,125.0 485.4,127.1 486.4,129.3 487.4,131.3 488.4,133.4 489.4,135.4 490.4,137.4 491.4,139.4 492.4,141.3 493.4,143.2 494.4,145.0 495.4,146.8 496.4,148.6 497.4,150.3 498.4,152.0 499.4,153.6 500.4,155.2 501.4,156.7 502.4,158.2 503.4,159.6 504.4,161.0 505.4,162.4 506.4,163.7 507.4,165.0 508.4,166.3 509.4,167.5 510.4,168.7 511.4,169.8 512.4,170.9 513.4,172.0 514.4,173.1 515.4,174.1 516.4,175.1 517.4,176.0 518.4,176.9 519.4,177.8 520.4,178.7 521.4,179.6 522.4,180.4 523.4,181.2 524.4,182.0 525.4,182.7 526.4,183.5 527.4,184.2 528.4,184.9 529.4,185.5 530.4,186.2 531.4,186.8 532.4,187.5 533.4,188.1 534.4,188.7 535.4,189.2 536.4,189.8 537.4,190.4 538.4,190.9 539.4,191.5 540.4,192.0 541.4,192.5 542.4,193.0 543.4,193.5 544.4,194.0 545.4,194.5 546.4,195.0 547.4,195.5 548.4,196.0 549.4,196.5" fill="none" stroke="#0073C2" stroke-width="3.0" stroke-linejoin="round" stroke-linecap="round"/><polyline points="549.4,196.5 550.4,197.0 551.4,197.5 552.4,198.0 553.4,198.5 554.4,199.0 555.4,199.5 556.4,200.0 557.4,200.5 558.4,201.0 559.4,201.5 560.4,202.1 561.4,202.6 562.4,203.2 563.4,203.8 564.4,204.4 565.4,205.0 566.4,205.6 567.4,206.2 568.4,206.8 569.4,207.5" fill="none" stroke="#0073C2" stroke-width="2.6" stroke-linejoin="round" stroke-linecap="round"/><polyline points="569.4,207.5 588.0,206.9 590.0,209.8 604.0,210.1 605.0,210.3 605.0,212.4 628.0,212.4 628.0,215.8" fill="none" stroke="#0073C2" stroke-width="2.2" stroke-linejoin="miter" stroke-linecap="square"/><polyline points="628.0,215.8 632.0,215.8 632.0,218.2 640.0,218.2 640.0,222.0 771.0,222.0" fill="none" stroke="#0073C2" stroke-width="1.5" stroke-linejoin="miter" stroke-linecap="square"/><path d="M445.3 48.3H451.0M448.2 45.4V51.2M446.6 49.7H451.6M449.1 47.1V52.2M447.7 50.2H452.6M450.2 47.8V52.7M449.4 52.7H453.9M451.7 50.5V55.0M450.0 54.7H454.3M452.2 52.5V56.8M451.2 55.9H455.8M453.5 53.5V58.2M451.6 58.3H456.0M453.8 56.1V60.4M451.9 59.4H456.6M454.2 57.1V61.8M453.8 62.1H458.5M456.2 59.7V64.4M453.4 63.2H458.9M456.2 60.4V66.0M454.0 64.3H460.0M457.0 61.3V67.3M455.7 66.4H460.5M458.1 64.0V68.8M456.1 66.9H461.0M458.5 64.5V69.4M456.5 69.9H462.4M459.5 66.9V72.8M458.1 71.8H463.0M460.6 69.3V74.2M458.1 73.4H462.6M460.4 71.1V75.6M458.9 74.2H464.3M461.6 71.5V76.9M459.1 75.8H464.2M461.7 73.3V78.4M460.0 77.7H465.3M462.6 75.0V80.4M460.1 79.2H465.9M463.0 76.3V82.1M461.1 80.3H467.0M464.1 77.3V83.2M461.8 82.1H467.3M464.5 79.4V84.9M463.8 84.4H468.1M465.9 82.2V86.6M464.3 86.2H469.9M467.1 83.4V89.0M464.5 88.1H469.8M467.2 85.4V90.7M465.8 90.5H471.3M468.5 87.8V93.2M466.5 92.2H471.6M469.1 89.7V94.8M467.1 93.5H472.1M469.6 91.0V96.0M468.5 95.7H473.3M470.9 93.3V98.1M469.3 97.2H474.5M471.9 94.6V99.8M470.2 99.6H474.7M472.4 97.3V101.8M471.0 101.9H476.3M473.6 99.2V104.5M472.1 104.1H476.8M474.4 101.8V106.5M473.5 105.4H477.8M475.6 103.3V107.6M474.4 108.1H479.2M476.8 105.7V110.5M474.4 110.2H479.7M477.0 107.5V112.8M475.6 111.7H481.1M478.3 109.0V114.5M477.3 113.6H481.6M479.4 111.4V115.8M477.3 116.0H483.1M480.2 113.2V118.9M478.1 116.6H483.6M480.9 113.8V119.3M478.6 118.4H483.8M481.2 115.9V121.0M480.0 120.7H484.9M482.5 118.3V123.2M480.6 122.7H485.6M483.1 120.2V125.2M481.4 124.5H486.0M483.7 122.2V126.8M481.6 126.3H487.4M484.5 123.4V129.2M483.1 127.9H487.5M485.3 125.7V130.1M483.9 130.0H489.0M486.4 127.5V132.5M484.5 131.2H490.0M487.2 128.4V133.9M486.3 134.2H490.7M488.5 131.9V136.4M486.7 135.6H492.4M489.5 132.7V138.4M487.5 137.7H493.1M490.3 134.9V140.6M489.1 140.8H495.0M492.1 137.8V143.8M490.8 142.2H495.6M493.2 139.8V144.7M492.1 144.3H497.0M494.5 141.8V146.7M492.1 145.5H497.7M494.9 142.7V148.3M493.1 147.1H498.1M495.6 144.6V149.6M493.8 148.5H498.4M496.1 146.2V150.7M494.0 149.1H499.7M496.8 146.3V151.9M495.9 151.9H501.3M498.6 149.2V154.6M496.5 153.0H502.0M499.3 150.3V155.8M497.8 154.6H503.2M500.5 151.9V157.3M498.9 156.3H503.3M501.1 154.1V158.5M499.4 158.1H505.1M502.2 155.2V160.9M501.6 160.5H506.1M503.9 158.2V162.8M501.5 161.5H507.4M504.4 158.6V164.5M503.3 163.1H508.5M505.9 160.5V165.6M504.5 164.5H509.6M507.1 162.0V167.1M504.9 165.7H510.9M507.9 162.7V168.7M506.7 167.7H511.1M508.9 165.4V169.9M508.8 169.5H513.8M511.3 167.0V171.9M509.2 170.0H514.0M511.6 167.6V172.5M510.6 171.8H516.6M513.6 168.9V174.8M512.2 173.6H516.7M514.5 171.3V175.8M513.9 174.2H518.4M516.2 172.0V176.5M514.8 175.3H519.0M516.9 173.2V177.4M515.6 177.2H520.7M518.2 174.7V179.8M516.9 178.5H522.9M519.9 175.5V181.5M519.1 179.9H523.7M521.4 177.6V182.2M519.6 180.5H525.6M522.6 177.6V183.5M522.8 182.5H527.5M525.1 180.1V184.8M523.7 183.1H528.7M526.2 180.7V185.6M525.3 184.5H530.3M527.8 182.0V187.1M528.1 186.2H532.5M530.3 184.1V188.4M528.4 186.6H534.0M531.2 183.8V189.4M531.6 187.8H536.3M533.9 185.5V190.2M533.9 189.6H538.8M536.3 187.2V192.0M535.2 190.8H540.0M537.6 188.4V193.2M535.4 190.8H541.1M538.3 187.9V193.6M538.8 191.7H543.6M541.2 189.3V194.2M540.6 192.9H545.5M543.1 190.4V195.3M542.8 194.2H547.4M545.1 192.0V196.5M544.7 195.7H549.9M547.3 193.1V198.3M546.0 195.6H550.6M548.3 193.4V197.9M547.4 196.6H552.3M549.8 194.1V199.0M548.9 197.5H554.5M551.7 194.6V200.3M551.4 198.5H556.5M554.0 196.0V201.1M553.4 199.8H558.2M555.8 197.4V202.2M554.2 199.8H559.6M556.9 197.1V202.5M556.5 201.6H561.6M559.1 199.0V204.1M558.5 202.2H563.5M561.0 199.7V204.7M560.6 203.6H565.0M562.8 201.4V205.8M560.7 204.0H566.7M563.7 201.0V206.9M563.9 205.6H569.3M566.6 202.9V208.3M564.5 205.8H570.2M567.4 202.9V208.6M566.1 207.0H570.9M568.5 204.6V209.4M573.0 205.2V209.6M576.6 205.1V209.5M579.2 205.0V209.4M581.0 204.9V209.3M582.7 204.9V209.3M584.4 204.8V209.2M594.0 207.7V212.1M595.8 207.7V212.1M598.4 207.8V212.2M600.1 207.8V212.2M607.7 210.2V214.6M611.5 210.2V214.6M614.4 210.2V214.6M618.2 210.2V214.6M623.9 210.2V214.6M637.4 216.0V220.4M641.2 219.8V224.2M645.5 219.8V224.2M654.5 219.8V224.2M663.2 219.8V224.2M665.1 219.8V224.2M771.0 219.8V224.2" stroke="#0073C2" stroke-width="1.0" fill="none"/><polyline points="440.4,39.3 441.4,40.0 442.4,40.9 443.4,41.7 444.4,42.7 445.4,43.7 446.4,44.8 447.4,46.0 448.4,47.2 449.4,48.4 450.4,49.7 451.4,51.1 452.4,52.5 453.4,54.0 454.4,55.5 455.4,57.1 456.4,58.7 457.4,60.3 458.4,62.0 459.4,63.7 460.4,65.4 461.4,67.1 462.4,68.9 463.4,70.8 464.4,72.6 465.4,74.4 466.4,76.3 467.4,78.2 468.4,80.1 469.4,82.0 470.4,83.9 471.4,85.9 472.4,87.8 473.4,89.7 474.4,91.7 475.4,93.6 476.4,95.5 477.4,97.4 478.4,99.3 479.4,101.2 480.4,103.1 481.4,105.0 482.4,106.8 483.4,108.6 484.4,110.4 485.4,112.2 486.4,113.9 487.4,115.7 488.4,117.4 489.4,119.0 490.4,120.7 491.4,122.3 492.4,123.9 493.4,125.5 494.4,127.0 495.4,128.5 496.4,130.0 497.4,131.5 498.4,132.9 499.4,134.3 500.4,135.7 501.4,137.0 502.4,138.3 503.4,139.6 504.4,140.8 505.4,142.1 506.4,143.2 507.4,144.4 508.4,145.5 509.4,146.6 510.4,147.7 511.4,148.7 512.4,149.7 513.4,150.6 514.4,151.6 515.4,152.4 516.4,153.3 517.4,154.1 518.4,155.0 519.4,155.7 520.4,156.5 521.4,157.2 522.4,157.9 523.4,158.6 524.4,159.3 525.4,160.0 526.4,160.6 527.4,161.3 528.4,161.9 529.4,162.5 530.4,163.1 531.4,163.7 532.4,164.2 533.4,164.8 534.4,165.4 535.4,166.0 536.4,166.5 537.4,167.1 538.4,167.7 539.4,168.2 540.4,168.8 541.4,169.4 542.4,170.0 543.4,170.6 544.4,171.2 545.4,171.8 546.4,172.4 547.4,173.0 548.4,173.7 549.4,174.3" fill="none" stroke="#EFC000" stroke-width="3.0" stroke-linejoin="round" stroke-linecap="round"/><polyline points="549.4,174.3 550.4,175.0 551.4,175.6 552.4,176.2 553.4,176.9 554.4,177.5 555.4,178.2 556.4,178.8 557.4,179.4 558.4,180.0 559.4,180.6 560.4,181.1 561.4,181.7 562.4,182.2 563.4,182.7 564.4,183.1 565.4,183.6 566.4,184.0 567.4,184.4 568.4,184.7 569.4,185.0" fill="none" stroke="#EFC000" stroke-width="2.6" stroke-linejoin="round" stroke-linecap="round"/><polyline points="569.4,185.0 588.0,185.4 590.0,188.2 604.0,188.7 605.0,188.9 605.0,191.1 628.0,191.1 628.0,194.1" fill="none" stroke="#EFC000" stroke-width="2.2" stroke-linejoin="miter" stroke-linecap="square"/><polyline points="628.0,194.1 632.0,194.1 632.0,197.2 640.0,197.2 640.0,202.4 771.0,202.4" fill="none" stroke="#EFC000" stroke-width="1.5" stroke-linejoin="miter" stroke-linecap="square"/><path d="M445.5 47.5H451.3M448.4 44.6V50.4M448.3 49.8H452.9M450.6 47.5V52.1M450.0 51.9H454.5M452.2 49.7V54.1M450.6 53.0H454.9M452.7 50.8V55.1M451.4 54.5H456.3M453.8 52.0V56.9M452.1 56.3H457.2M454.7 53.7V58.8M453.4 57.4H458.4M455.9 54.9V59.9M454.3 59.8H459.9M457.1 56.9V62.6M455.5 61.0H461.0M458.3 58.3V63.7M456.2 62.4H461.1M458.6 59.9V64.8M456.8 64.0H462.4M459.6 61.2V66.8M458.2 65.4H462.5M460.3 63.2V67.5M458.4 66.3H463.0M460.7 64.0V68.5M459.2 68.3H464.4M461.8 65.7V70.9M460.0 70.3H465.6M462.8 67.6V73.1M461.1 72.6H466.4M463.8 70.0V75.3M462.3 73.7H467.5M464.9 71.1V76.2M462.7 74.9H468.3M465.5 72.1V77.7M463.9 76.7H468.4M466.2 74.4V79.0M465.1 77.6H470.2M467.7 75.0V80.2M464.6 79.8H470.5M467.6 76.8V82.7M466.4 80.6H470.9M468.6 78.3V82.8M467.3 83.0H472.7M470.0 80.3V85.7M467.3 83.8H472.8M470.1 81.1V86.5M469.0 85.7H473.2M471.1 83.6V87.9M469.4 87.3H474.0M471.7 85.0V89.6M470.2 88.1H474.7M472.4 85.9V90.4M471.1 90.4H475.6M473.4 88.2V92.7M471.7 92.8H477.4M474.6 89.9V95.6M472.7 94.1H477.7M475.2 91.5V96.6M474.2 95.7H479.3M476.8 93.1V98.2M475.1 97.4H479.6M477.4 95.1V99.6M475.2 98.7H480.8M478.0 95.9V101.5M476.2 100.2H480.9M478.6 97.8V102.6M476.8 101.6H482.2M479.5 98.9V104.3M478.7 103.9H483.8M481.2 101.4V106.5M479.4 106.1H483.7M481.5 104.0V108.3M480.3 107.1H485.0M482.7 104.7V109.4M481.5 109.5H485.9M483.7 107.3V111.6M481.8 111.6H487.6M484.7 108.7V114.4M484.5 114.3H489.2M486.8 112.0V116.6M484.1 114.7H490.0M487.0 111.7V117.6M485.4 115.8H489.6M487.5 113.7V118.0M485.6 118.3H491.0M488.3 115.5V121.0M487.6 119.7H492.4M490.0 117.3V122.1M489.0 121.7H493.8M491.4 119.3V124.1M490.6 123.7H495.0M492.8 121.5V125.8M491.3 125.7H496.5M493.9 123.1V128.3M492.8 127.3H497.4M495.1 125.0V129.5M492.9 129.0H497.5M495.2 126.7V131.3M494.6 129.6H499.3M496.9 127.2V132.0M494.6 132.6H500.3M497.5 129.7V135.4M496.1 133.4H501.5M498.8 130.6V136.1M497.2 134.4H501.9M499.6 132.1V136.8M498.5 136.3H503.4M501.0 133.8V138.7M499.5 137.5H504.4M501.9 135.1V139.9M500.5 140.0H506.4M503.5 137.0V142.9M502.2 140.8H507.8M505.0 138.0V143.6M503.9 143.6H509.4M506.6 140.8V146.3M505.6 145.2H510.2M507.9 142.9V147.5M506.1 146.4H511.7M508.9 143.6V149.2M507.9 146.8H512.6M510.3 144.5V149.2M509.6 149.1H514.4M512.0 146.7V151.5M510.5 150.1H516.2M513.3 147.3V152.9M512.3 152.3H517.2M514.8 149.9V154.7M514.2 153.3H519.3M516.7 150.7V155.9M515.3 154.5H521.3M518.3 151.5V157.5M517.4 157.0H522.6M520.0 154.4V159.6M519.2 157.3H524.7M521.9 154.6V160.0M520.9 158.4H526.5M523.7 155.5V161.2M523.2 159.9H528.8M526.0 157.1V162.7M525.2 161.4H530.0M527.6 159.0V163.8M526.3 161.9H530.7M528.5 159.8V164.1M528.5 163.4H533.2M530.8 161.1V165.8M530.0 164.2H535.3M532.7 161.6V166.9M531.8 165.6H536.4M534.1 163.2V167.9M533.0 165.8H539.0M536.0 162.8V168.7M534.5 167.4H540.1M537.3 164.6V170.3M537.3 167.9H542.5M539.9 165.3V170.4M539.3 169.6H544.6M542.0 167.0V172.2M540.3 170.4H546.1M543.2 167.5V173.4M543.3 172.1H547.7M545.5 170.0V174.3M544.9 173.2H549.7M547.3 170.9V175.6M546.9 173.6H551.7M549.3 171.2V175.9M548.1 174.9H553.8M551.0 172.0V177.7M549.1 176.0H554.5M551.8 173.3V178.7M551.8 177.1H557.3M554.5 174.4V179.9M553.0 178.8H558.8M555.9 175.9V181.7M555.9 179.2H560.4M558.1 177.0V181.5M557.1 180.9H562.2M559.6 178.3V183.4M559.1 181.7H563.6M561.3 179.5V184.0M559.9 182.6H565.7M562.8 179.8V185.5M561.9 183.0H566.4M564.2 180.8V185.3M563.4 183.5H568.3M565.9 181.1V186.0M564.6 184.5H570.0M567.3 181.9V187.2M573.0 182.9V187.3M576.6 183.0V187.4M579.2 183.0V187.4M581.0 183.1V187.5M582.7 183.1V187.5M584.4 183.1V187.5M594.0 186.1V190.5M595.8 186.2V190.6M598.4 186.3V190.7M600.1 186.4V190.8M607.7 188.9V193.3M611.5 188.9V193.3M614.4 188.9V193.3M618.2 188.9V193.3M623.9 188.9V193.3M637.4 195.0V199.4M641.2 200.2V204.6M645.5 200.2V204.6M654.5 200.2V204.6M663.2 200.2V204.6M665.1 200.2V204.6M771.0 200.2V204.6" stroke="#EFC000" stroke-width="1.0" fill="none"/><polyline points="440.4,39.3 441.4,40.0 442.4,40.7 443.4,41.5 444.4,42.4 445.4,43.3 446.4,44.3 447.4,45.3 448.4,46.4 449.4,47.5 450.4,48.7 451.4,49.9 452.4,51.1 453.4,52.4 454.4,53.7 455.4,55.1 456.4,56.5 457.4,57.9 458.4,59.4 459.4,60.9 460.4,62.4 461.4,64.0 462.4,65.6 463.4,67.2 464.4,68.8 465.4,70.4 466.4,72.1 467.4,73.8 468.4,75.4 469.4,77.1 470.4,78.9 471.4,80.6 472.4,82.3 473.4,84.0 474.4,85.8 475.4,87.5 476.4,89.3 477.4,91.0 478.4,92.7 479.4,94.4 480.4,96.2 481.4,97.9 482.4,99.6 483.4,101.3 484.4,102.9 485.4,104.6 486.4,106.2 487.4,107.9 488.4,109.5 489.4,111.0 490.4,112.6 491.4,114.1 492.4,115.6 493.4,117.1 494.4,118.6 495.4,120.0 496.4,121.5 497.4,122.9 498.4,124.3 499.4,125.6 500.4,126.9 501.4,128.3 502.4,129.5 503.4,130.8 504.4,132.1 505.4,133.3 506.4,134.5 507.4,135.7 508.4,136.8 509.4,138.0 510.4,139.1 511.4,140.2 512.4,141.2 513.4,142.3 514.4,143.3 515.4,144.3 516.4,145.2 517.4,146.2 518.4,147.1 519.4,148.0 520.4,148.9 521.4,149.8 522.4,150.6 523.4,151.4 524.4,152.2 525.4,153.0 526.4,153.7 527.4,154.4 528.4,155.2 529.4,155.8 530.4,156.5 531.4,157.2 532.4,157.8 533.4,158.4 534.4,159.1 535.4,159.7 536.4,160.3 537.4,160.8 538.4,161.4 539.4,161.9 540.4,162.5 541.4,163.0 542.4,163.6 543.4,164.1 544.4,164.6 545.4,165.1 546.4,165.6 547.4,166.1 548.4,166.6 549.4,167.1" fill="none" stroke="#868686" stroke-width="3.0" stroke-linejoin="round" stroke-linecap="round"/><polyline points="549.4,167.1 550.4,167.6 551.4,168.0 552.4,168.5 553.4,169.0 554.4,169.5 555.4,170.0 556.4,170.5 557.4,171.0 558.4,171.5 559.4,172.0 560.4,172.5 561.4,173.0 562.4,173.5 563.4,174.0 564.4,174.5 565.4,175.1 566.4,175.6 567.4,176.2 568.4,176.8 569.4,177.4" fill="none" stroke="#868686" stroke-width="2.6" stroke-linejoin="round" stroke-linecap="round"/><polyline points="569.4,177.4 588.0,177.1 590.0,179.8 604.0,180.4 605.0,180.6 605.0,183.3 628.0,183.3 628.0,186.4" fill="none" stroke="#868686" stroke-width="2.2" stroke-linejoin="miter" stroke-linecap="square"/><polyline points="628.0,186.4 632.0,186.4 632.0,189.4 640.0,189.4 640.0,194.9 771.0,194.9" fill="none" stroke="#868686" stroke-width="1.5" stroke-linejoin="miter" stroke-linecap="square"/><path d="M446.7 47.5H452.6M449.6 44.6V50.4M448.2 48.6H453.4M450.8 46.0V51.1M449.5 50.9H455.2M452.3 48.1V53.7M451.3 51.8H455.9M453.6 49.5V54.1M451.8 53.9H456.1M453.9 51.8V56.0M452.5 55.0H458.1M455.3 52.2V57.8M453.7 56.6H458.2M456.0 54.4V58.8M453.8 57.3H459.7M456.7 54.4V60.3M455.7 59.3H461.1M458.4 56.6V62.0M457.1 60.7H461.7M459.4 58.4V63.0M458.9 63.5H463.2M461.0 61.3V65.6M459.6 65.8H464.8M462.2 63.2V68.5M461.0 67.3H466.4M463.7 64.6V70.0M462.1 68.3H466.4M464.3 66.1V70.4M462.1 69.4H467.7M464.9 66.6V72.2M462.8 71.3H467.5M465.1 68.9V73.7M463.9 72.2H468.8M466.4 69.8V74.7M464.5 75.0H470.5M467.5 72.0V78.0M466.6 76.2H471.1M468.9 73.9V78.5M467.4 77.4H473.0M470.2 74.6V80.2M467.8 79.5H473.3M470.5 76.7V82.2M469.7 82.2H474.2M472.0 79.9V84.5M470.5 83.6H474.9M472.7 81.5V85.8M471.4 84.8H476.8M474.1 82.1V87.5M472.4 86.5H477.8M475.1 83.8V89.3M473.3 88.0H477.7M475.5 85.8V90.2M474.1 89.5H479.0M476.5 87.0V91.9M474.4 90.8H479.6M477.0 88.2V93.5M475.2 93.6H481.2M478.2 90.6V96.5M477.1 95.0H482.4M479.8 92.3V97.7M478.3 96.5H482.7M480.5 94.3V98.7M478.1 98.1H483.7M480.9 95.3V100.9M480.0 99.1H484.5M482.2 96.9V101.3M480.7 100.5H485.8M483.2 97.9V103.0M482.4 103.0H486.7M484.6 100.9V105.2M482.7 104.5H488.4M485.5 101.6V107.3M483.6 106.1H489.1M486.4 103.3V108.8M484.5 107.5H489.9M487.2 104.8V110.2M485.3 108.4H489.8M487.5 106.1V110.7M487.1 111.2H492.1M489.6 108.7V113.7M487.5 112.5H492.6M490.1 109.9V115.1M488.5 113.6H493.9M491.2 111.0V116.3M489.5 115.4H495.0M492.2 112.7V118.1M490.7 116.8H496.2M493.4 114.0V119.6M491.6 119.0H497.1M494.3 116.2V121.7M493.1 120.8H498.0M495.6 118.4V123.3M494.9 122.9H500.6M497.7 120.1V125.8M495.8 124.1H501.8M498.8 121.1V127.1M497.0 126.2H502.3M499.7 123.6V128.8M498.7 128.8H503.5M501.1 126.4V131.2M501.0 130.6H505.9M503.5 128.1V133.0M500.8 131.8H506.4M503.6 129.0V134.6M503.2 134.1H508.0M505.6 131.8V136.5M505.0 135.4H510.8M507.9 132.5V138.3M506.6 137.8H511.8M509.2 135.3V140.4M507.3 139.4H513.1M510.2 136.5V142.3M509.3 139.8H513.9M511.6 137.6V142.1M510.1 141.0H514.8M512.4 138.6V143.3M511.0 142.4H515.2M513.1 140.3V144.6M512.4 143.1H517.2M514.8 140.7V145.5M514.8 145.8H519.3M517.1 143.5V148.0M515.8 146.7H520.8M518.3 144.2V149.3M518.6 148.7H522.9M520.7 146.6V150.9M520.5 150.6H525.1M522.8 148.3V152.9M521.8 151.8H526.6M524.2 149.4V154.3M522.7 152.4H527.4M525.0 150.1V154.7M524.1 154.7H529.7M526.9 151.9V157.5M526.3 155.2H531.7M529.0 152.5V157.9M528.1 156.8H534.1M531.1 153.8V159.8M530.8 158.4H535.5M533.1 156.1V160.8M533.1 160.0H537.9M535.5 157.7V162.4M535.2 161.1H539.6M537.4 158.9V163.3M536.9 161.3H541.8M539.3 158.9V163.8M538.3 162.1H543.1M540.7 159.7V164.5M539.9 163.9H545.8M542.8 160.9V166.9M541.2 164.5H546.7M543.9 161.7V167.3M542.6 164.9H548.2M545.4 162.1V167.7M545.0 165.8H550.1M547.6 163.2V168.4M546.4 166.7H552.1M549.3 163.9V169.5M547.4 167.1H553.0M550.2 164.3V169.9M549.1 168.8H554.6M551.8 166.1V171.6M551.1 169.0H557.0M554.0 166.1V172.0M552.9 169.4H558.4M555.7 166.7V172.2M554.5 170.7H558.7M556.6 168.6V172.9M555.4 171.5H560.0M557.7 169.2V173.8M556.7 171.9H562.6M559.7 169.0V174.9M559.0 173.3H564.6M561.8 170.5V176.1M560.4 173.8H564.9M562.7 171.6V176.1M562.1 174.6H567.1M564.6 172.1V177.0M563.4 175.1H567.9M565.7 172.9V177.4M565.5 176.9H571.1M568.3 174.0V179.7M573.0 175.1V179.5M576.6 175.1V179.5M579.2 175.0V179.4M581.0 175.0V179.4M582.7 175.0V179.4M584.4 174.9V179.3M594.0 177.8V182.2M595.8 177.8V182.2M598.4 178.0V182.4M600.1 178.0V182.4M607.7 181.1V185.5M611.5 181.1V185.5M614.4 181.1V185.5M618.2 181.1V185.5M623.9 181.1V185.5M637.4 187.2V191.6M641.2 192.7V197.1M645.5 192.7V197.1M654.5 192.7V197.1M663.2 192.7V197.1M665.1 192.7V197.1M771.0 192.7V197.1" stroke="#868686" stroke-width="1.0" fill="none"/><path d="M47.0 38.9H52.2M49.6 36.5V41.3" stroke="#868686" stroke-width="1.6" fill="none"/><path d="M437.8 39.3H443.0M440.4 36.9V41.7" stroke="#868686" stroke-width="1.6" fill="none"/></svg>
</body></html>
